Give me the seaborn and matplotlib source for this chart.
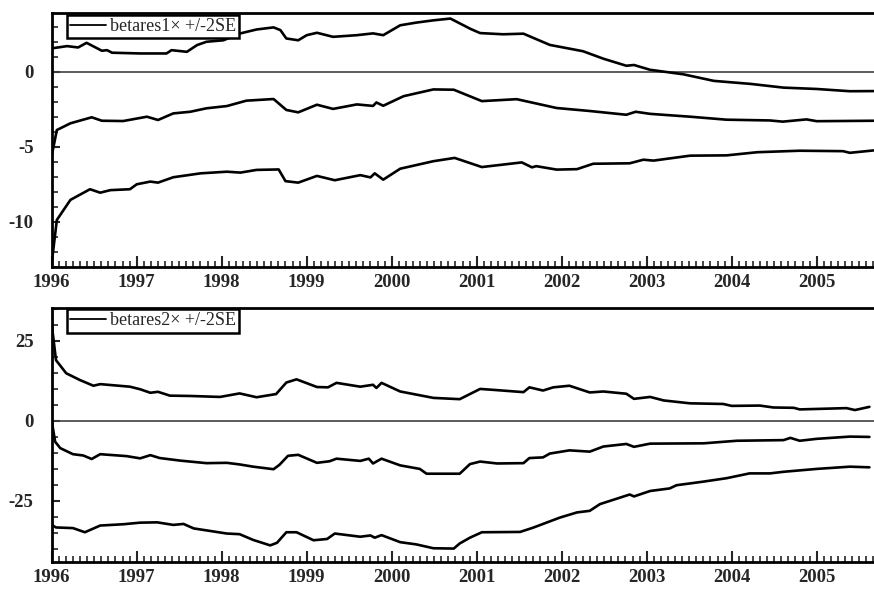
import numpy as np
import pandas as pd
import matplotlib
matplotlib.use('Agg')
import matplotlib.pyplot as plt
from matplotlib.ticker import MultipleLocator, FixedLocator
import seaborn as sns

# Recursive coefficient estimates with +/-2SE bands
# Panel 1: betares1
b1_up_x = [1996.0, 1996.18, 1996.31, 1996.41, 1996.59, 1996.65, 1996.71, 1997.04, 1997.35, 1997.41,
           1997.59, 1997.71, 1997.82, 1998.02, 1998.22, 1998.41, 1998.61, 1998.69, 1998.76, 1998.9,
           1999.0, 1999.12, 1999.31, 1999.59, 1999.78, 1999.9, 2000.1, 2000.29, 2000.49, 2000.69,
           2000.93, 2001.04, 2001.31, 2001.55, 2001.86, 2002.25, 2002.49, 2002.76, 2002.85, 2003.04,
           2003.43, 2003.79, 2004.22, 2004.61, 2005.0, 2005.39, 2005.67]
b1_up_y = [1.56, 1.71, 1.62, 1.93, 1.4, 1.44, 1.27, 1.22, 1.22, 1.44,
           1.33, 1.78, 2.0, 2.1, 2.56, 2.82, 2.96, 2.78, 2.22, 2.1,
           2.44, 2.6, 2.33, 2.44, 2.56, 2.44, 3.1, 3.28, 3.43, 3.55,
           2.85, 2.58, 2.5, 2.54, 1.79, 1.37, 0.87, 0.4, 0.45, 0.13,
           -0.17, -0.61, -0.81, -1.06, -1.15, -1.3, -1.29]

b1_mid_x = [1996.0, 1996.06, 1996.22, 1996.47, 1996.59, 1996.84, 1997.12, 1997.25, 1997.43, 1997.63,
            1997.82, 1998.06, 1998.29, 1998.61, 1998.76, 1998.9, 1999.12, 1999.31, 1999.59, 1999.78,
            1999.82, 1999.9, 2000.14, 2000.49, 2000.73, 2001.06, 2001.47, 2001.94, 2002.33, 2002.76,
            2002.87, 2003.04, 2003.51, 2003.94, 2004.45, 2004.6, 2004.88, 2005.0, 2005.67]
b1_mid_y = [-5.6, -3.89, -3.44, -3.04, -3.27, -3.29, -3.0, -3.22, -2.78, -2.67,
            -2.44, -2.29, -1.93, -1.82, -2.55, -2.71, -2.2, -2.48, -2.18, -2.28,
            -2.05, -2.27, -1.63, -1.18, -1.2, -1.96, -1.83, -2.42, -2.62, -2.87,
            -2.67, -2.81, -3.0, -3.2, -3.25, -3.33, -3.18, -3.3, -3.27]

b1_lo_x = [1996.0, 1996.06, 1996.22, 1996.45, 1996.57, 1996.69, 1996.92, 1997.0, 1997.16, 1997.25,
           1997.43, 1997.75, 1998.06, 1998.22, 1998.41, 1998.67, 1998.75, 1998.9, 1999.12, 1999.33,
           1999.63, 1999.75, 1999.8, 1999.9, 2000.1, 2000.49, 2000.74, 2001.06, 2001.53, 2001.65,
           2001.7, 2001.94, 2002.18, 2002.37, 2002.8, 2002.96, 2003.08, 2003.51, 2003.94, 2004.3,
           2004.8, 2005.31, 2005.39, 2005.67]
b1_lo_y = [-12.75, -9.89, -8.55, -7.84, -8.07, -7.9, -7.84, -7.51, -7.33, -7.4,
           -7.04, -6.78, -6.67, -6.73, -6.55, -6.52, -7.3, -7.4, -6.95, -7.24,
           -6.9, -7.05, -6.78, -7.2, -6.47, -5.97, -5.75, -6.36, -6.05, -6.38,
           -6.3, -6.53, -6.5, -6.14, -6.11, -5.87, -5.93, -5.6, -5.58, -5.37,
           -5.27, -5.3, -5.41, -5.25]

# Panel 2: betares2
b2_up_x = [1996.0, 1996.01, 1996.05, 1996.17, 1996.33, 1996.49, 1996.57, 1996.92, 1997.04, 1997.16,
           1997.25, 1997.39, 1997.63, 1997.98, 1998.21, 1998.41, 1998.64, 1998.76, 1998.88, 1999.12,
           1999.25, 1999.35, 1999.63, 1999.78, 1999.82, 1999.88, 2000.1, 2000.49, 2000.8, 2001.04,
           2001.2, 2001.55, 2001.62, 2001.78, 2001.9, 2002.09, 2002.33, 2002.49, 2002.76, 2002.85,
           2003.04, 2003.2, 2003.51, 2003.9, 2004.0, 2004.33, 2004.49, 2004.73, 2004.8, 2005.35,
           2005.45, 2005.62]
b2_up_y = [33, 27.9, 19, 14.9, 12.8, 11.0, 11.5, 10.7, 9.9, 8.8,
           9.1, 7.9, 7.8, 7.5, 8.6, 7.4, 8.4, 12.0, 13.0, 10.6,
           10.5, 11.9, 10.7, 11.3, 10.3, 11.9, 9.2, 7.2, 6.8, 10.0,
           9.7, 9.0, 10.5, 9.5, 10.5, 11.0, 8.9, 9.2, 8.5, 6.9,
           7.5, 6.4, 5.5, 5.3, 4.7, 4.8, 4.2, 4.1, 3.6, 4.0,
           3.4, 4.4]

b2_mid_x = [1996.0, 1996.04, 1996.1, 1996.25, 1996.37, 1996.47, 1996.57, 1996.88, 1997.04, 1997.16,
            1997.27, 1997.51, 1997.82, 1998.06, 1998.21, 1998.37, 1998.61, 1998.68, 1998.78, 1998.9,
            1999.12, 1999.27, 1999.35, 1999.63, 1999.73, 1999.78, 1999.88, 2000.1, 2000.33, 2000.41,
            2000.8, 2000.92, 2001.04, 2001.24, 2001.55, 2001.62, 2001.78, 2001.86, 2002.09, 2002.33,
            2002.49, 2002.76, 2002.85, 2003.04, 2003.67, 2004.06, 2004.61, 2004.69, 2004.8, 2005.0,
            2005.39, 2005.62]
b2_mid_y = [0.0, -6.5, -8.5, -10.4, -10.8, -11.9, -10.4, -11.0, -11.7, -10.7,
            -11.6, -12.4, -13.2, -13.1, -13.6, -14.3, -15.1, -13.7, -10.9, -10.6,
            -13.1, -12.6, -11.8, -12.5, -11.8, -13.3, -11.8, -13.9, -15.0, -16.5,
            -16.5, -13.5, -12.7, -13.3, -13.2, -11.6, -11.4, -10.2, -9.2, -9.6,
            -8.0, -7.2, -8.1, -7.1, -7.0, -6.2, -6.0, -5.3, -6.2, -5.6,
            -4.9, -5.0]

b2_lo_x = [1996.0, 1996.05, 1996.25, 1996.39, 1996.57, 1996.84, 1997.04, 1997.24, 1997.43, 1997.55,
           1997.67, 1998.06, 1998.21, 1998.37, 1998.57, 1998.65, 1998.76, 1998.88, 1999.08, 1999.24,
           1999.33, 1999.63, 1999.75, 1999.8, 1999.88, 2000.1, 2000.29, 2000.49, 2000.73, 2000.8,
           2000.92, 2001.06, 2001.51, 2001.66, 2001.98, 2002.18, 2002.33, 2002.45, 2002.8, 2002.85,
           2003.04, 2003.27, 2003.35, 2003.66, 2003.94, 2004.21, 2004.45, 2004.61, 2005.0, 2005.39,
           2005.62]
b2_lo_y = [-32.5, -33.3, -33.5, -34.8, -32.7, -32.3, -31.8, -31.7, -32.5, -32.2,
           -33.6, -35.2, -35.4, -37.2, -38.9, -38.1, -34.8, -34.8, -37.3, -36.9,
           -35.2, -36.2, -35.8, -36.5, -35.7, -37.9, -38.6, -39.8, -39.9, -38.3,
           -36.5, -34.8, -34.7, -33.4, -30.2, -28.6, -28.1, -26.0, -23.0, -23.6,
           -21.9, -21.1, -20.1, -19.0, -17.9, -16.4, -16.4, -15.9, -15.0, -14.3,
           -14.5]

years = list(range(1996, 2006))
labels = ['betares1\u00d7 +/-2SE', 'betares2\u00d7 +/-2SE']

sns.set_style('ticks')
plt.rcParams['font.family'] = ['Liberation Serif', 'DejaVu Serif']
plt.rcParams['axes.unicode_minus'] = False

fig = plt.figure(figsize=(8.74, 5.91), dpi=100)
ax1 = fig.add_axes([0.0592, 0.5477, 0.9408, 0.4298])
ax2 = fig.add_axes([0.0592, 0.0496, 0.9408, 0.4298])

panels = [
    (ax1, [(b1_up_x, b1_up_y), (b1_mid_x, b1_mid_y), (b1_lo_x, b1_lo_y)], (-13.05, 3.9), [-10, -5, 0], 1),
    (ax2, [(b2_up_x, b2_up_y), (b2_mid_x, b2_mid_y), (b2_lo_x, b2_lo_y)], (-44, 35.4), [-25, 0, 25], 5),
]

for i, (ax, series, ylim, major, minor) in enumerate(panels):
    ax.axhline(0, color='0.25', lw=1.2, zorder=1)
    for j, (xs, ys) in enumerate(series):
        df = pd.DataFrame({'t': xs, 'v': ys})
        sns.lineplot(data=df, x='t', y='v', ax=ax, color='black', lw=1.9, sort=False,
                     estimator=None, label=labels[i] if j == 1 else None)
    ax.set_xlim(1996, 2005.674)
    ax.set_ylim(*ylim)
    ax.set_xlabel('')
    ax.set_ylabel('')
    ax.xaxis.set_major_locator(FixedLocator(years))
    ax.xaxis.set_minor_locator(MultipleLocator(1 / 12))
    ax.yaxis.set_major_locator(FixedLocator(major))
    ax.yaxis.set_minor_locator(MultipleLocator(minor))
    ax.set_xticklabels([str(y) for y in years])
    ax.tick_params(axis='x', which='major', direction='in', length=8, width=1.5, pad=5,
                   labelsize=13.5, top=False)
    ax.tick_params(axis='x', which='minor', direction='in', length=4, width=1.2, top=False)
    ax.tick_params(axis='y', which='major', direction='in', length=6, width=1.5, pad=13,
                   labelsize=13.5, right=False)
    ax.tick_params(axis='y', which='minor', direction='in', length=4, width=1.2, right=False)
    for lab in ax.get_xticklabels() + ax.get_yticklabels():
        lab.set_fontweight('bold')
    for side in ['left', 'bottom', 'top']:
        ax.spines[side].set_linewidth(2)
        ax.spines[side].set_color('black')
    ax.spines['right'].set_visible(False)
    leg = ax.legend(loc='upper left', bbox_to_anchor=(0.018, 0.994), borderaxespad=0,
                    fontsize=13, handlelength=2.0, handletextpad=0.2, borderpad=0.18,
                    fancybox=False, framealpha=1)
    leg.get_frame().set_edgecolor('black')
    leg.get_frame().set_linewidth(1.8)
    for h in leg.get_lines():
        h.set_linewidth(1.3)

fig.savefig('out.png', dpi=100, facecolor='white')
